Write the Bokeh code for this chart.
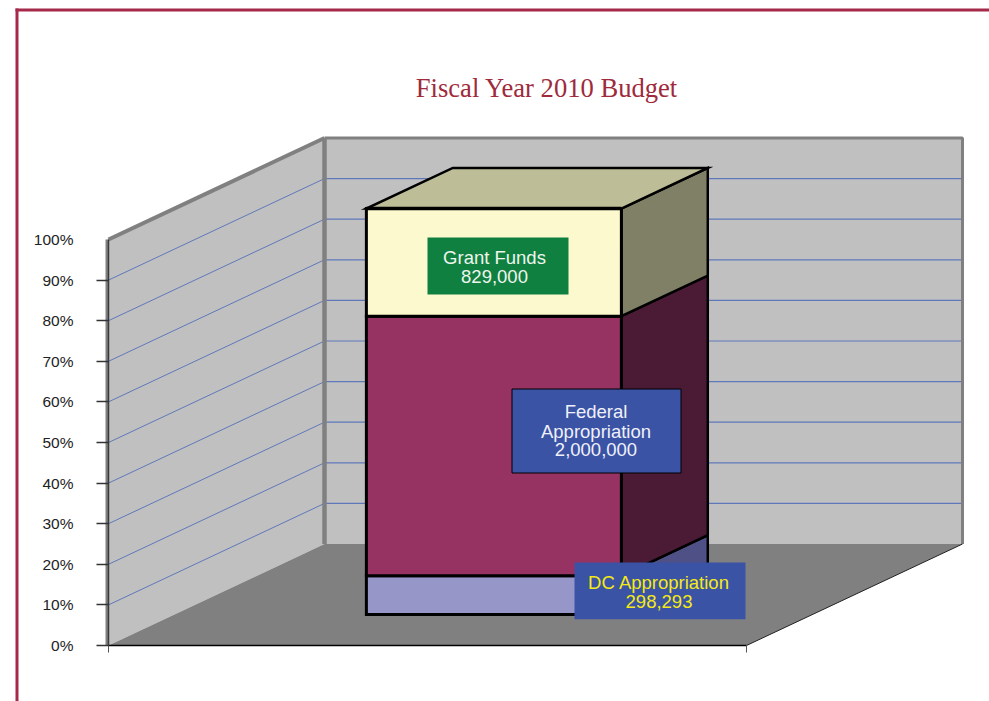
from bokeh.embed import file_html
from bokeh.resources import INLINE
from bokeh.plotting import figure
from bokeh.models import LinearAxis, FixedTicker, Range1d
from bokeh.core.properties import value

# ---- data ----
title_text = "Fiscal Year 2010 Budget"
categories = ["DC Appropriation", "Federal Appropriation", "Grant Funds"]
amounts = [298293, 2000000, 829000]
front_colors = ["#9696c9", "#963362", "#fdf9ce"]
side_colors = ["#4f5085", "#4b1b35", "#808066"]
top_color = "#bdbd98"
tick_values = [0, 10, 20, 30, 40, 50, 60, 70, 80, 90, 100]
tick_labels = ["0%", "10%", "20%", "30%", "40%", "50%", "60%", "70%", "80%", "90%", "100%"]
label_lines = [["DC Appropriation", "298,293"], ["Federal", "Appropriation", "2,000,000"], ["Grant Funds", "829,000"]]
label_text_colors = ["#f5ea14", "#f0f0fa", "#eef6ee"]
label_fills = ["#3a53a4", "#3a53a4", "#108040"]
label_borders = [None, "#000000", None]

# ---- layout (page pixels) ----
W, H = 989, 701
AXIS_X, AXIS_Y = 108, 645
PX_PER_PCT = 4.06
FLOOR_W, DX, DY = 638, 216, 25.0           # floor width, depth offset in x / in %
BAR_X, BAR_W, BAR_D0, BAR_DEPTH = 192, 255, 0.305, 0.40
GREY, WALL = "#808080", "#c0c0c0"
GRID = "#5f78ba"
BORDER = "#a52a4a"
label_boxes = [(574, 745, 562, 618.7), (511.5, 680.5, 388.5, 472.5), (427, 568, 237, 294)]
label_xc = [658.5, 595.5, 494]
label_yc = [[581.5, 600.5], [411, 430.5, 449], [256.5, 275.5]]


def px(sx):
    return sx - AXIS_X


def py(sy):
    return (AXIS_Y - sy) / PX_PER_PCT


def proj(x, d, y):
    return x + d * DX, y + d * DY


p = figure(width=W, height=H, output_backend="svg", toolbar_location=None,
           x_range=Range1d(px(0), px(W)), y_range=Range1d(py(H), py(0)),
           min_border_left=0, min_border_right=0, min_border_top=0, min_border_bottom=0,
           background_fill_color="white", border_fill_color="white", outline_line_color=None)
p.grid.visible = False

# page frame
p.quad(left=px(15), right=px(W), top=py(8), bottom=py(11), fill_color=BORDER, line_color=None)
p.quad(left=px(15), right=px(18), top=py(8), bottom=py(H), fill_color=BORDER, line_color=None)

# title
p.text(x=[px(546.5)], y=[py(87.5)], text=[title_text], text_color="#9e2a3c",
       text_font=value("Liberation Serif"), text_font_size=value("26.6px"),
       text_align="center", text_baseline="middle")

# walls and floor
p.patch([0, DX, DX, 0], [0, DY, 100 + DY, 100], fill_color=WALL, line_color=None)
p.patch([DX, DX + FLOOR_W, DX + FLOOR_W, DX], [DY, DY, 100 + DY, 100 + DY], fill_color=WALL, line_color=None)
p.patch([0, FLOOR_W, FLOOR_W + DX, DX], [0, 0, DY, DY], fill_color=GREY, line_color=None)

for t in tick_values[1:-1]:
    p.line([0, DX], [t, t + DY], line_color=GRID, line_width=1)
    p.line([DX, DX + FLOOR_W], [t + DY, t + DY], line_color=GRID, line_width=1.2)

p.line([0, DX], [100, 100 + DY], line_color=GREY, line_width=4)
p.line([DX, DX + FLOOR_W, DX + FLOOR_W], [100 + DY, 100 + DY, DY], line_color=GREY, line_width=3)
p.line([DX, DX], [DY, 100 + DY], line_color=GREY, line_width=4.5)
p.line([FLOOR_W, FLOOR_W + DX], [0, DY], line_color="#222222", line_width=1)
p.line([px(106.5), px(106.5)], [0, 100], line_color=GREY, line_width=3)

# stacked 3-D bar
total = sum(amounts)
start = 0.0
d0, d1 = BAR_D0, BAR_D0 + BAR_DEPTH
bx0, bx1 = BAR_X, BAR_X + BAR_W
for amount, fc, sc in zip(amounts, front_colors, side_colors):
    share = 100.0 * amount / total
    lo, hi = start, start + share
    side = [proj(bx1, d0, lo), proj(bx1, d1, lo), proj(bx1, d1, hi), proj(bx1, d0, hi)]
    p.patch([a for a, _ in side], [b for _, b in side], fill_color=sc, line_color="black",
            line_width=2.5, line_join="miter")
    front = [proj(bx0, d0, lo), proj(bx1, d0, lo), proj(bx1, d0, hi), proj(bx0, d0, hi)]
    p.patch([a for a, _ in front], [b for _, b in front], fill_color=fc, line_color="black",
            line_width=3, line_join="miter")
    start = hi
top_face = [proj(bx0, d0, start), proj(bx1, d0, start), proj(bx1, d1, start), proj(bx0, d1, start)]
p.patch([a for a, _ in top_face], [b for _, b in top_face], fill_color=top_color, line_color="black",
        line_width=2.5, line_join="miter")
p.line([proj(bx0, d0, start)[0], proj(bx1, d0, start)[0]], [proj(bx0, d0, start)[1]] * 2,
       line_color="black", line_width=3.5)

# data labels
for lines, tc, fill, border, box, xc, ycs in zip(label_lines, label_text_colors, label_fills,
                                                 label_borders, label_boxes, label_xc, label_yc):
    p.quad(left=px(box[0]), right=px(box[1]), top=py(box[2]), bottom=py(box[3]),
           fill_color=fill, line_color=border, line_width=1, line_join="miter")
    p.text(x=[px(xc)] * len(lines), y=[py(v) for v in ycs], text=lines, text_color=tc,
           text_font=value("Liberation Sans"), text_font_size=value("18.5px"),
           text_align="center", text_baseline="middle")

# axes drawn inside the frame at the wall edge: marks stop at 90%, labels reach 100%
yax = p.yaxis[0]
yax.fixed_location = 0
yax.ticker = FixedTicker(ticks=tick_values[:-1])
yax.bounds = (0, 100)
yax.axis_line_color = "#3a3a3a"
yax.axis_line_width = 1.5
yax.major_tick_out = 12
yax.major_tick_in = 0
yax.major_tick_line_color = "#333333"
yax.major_tick_line_width = 1.5
yax.minor_tick_line_color = None
yax.major_label_text_font_size = "0px"
yax.major_label_text_color = None

lab = LinearAxis(ticker=FixedTicker(ticks=tick_values), fixed_location=0,
                 major_label_overrides={v: s for v, s in zip(tick_values, tick_labels)})
lab.axis_line_color = None
lab.major_tick_line_color = None
lab.minor_tick_line_color = None
lab.major_tick_out = 0
lab.major_tick_in = 0
lab.major_label_text_font = "Liberation Sans"
lab.major_label_text_font_size = "15.5px"
lab.major_label_text_color = "#222222"
lab.major_label_standoff = 35
p.add_layout(lab, "left")

xax = p.xaxis[0]
xax.fixed_location = 0
xax.ticker = FixedTicker(ticks=[0, FLOOR_W])
xax.bounds = (0, FLOOR_W)
xax.axis_line_color = "black"
xax.axis_line_width = 1.5
xax.major_tick_out = 7
xax.major_tick_in = 0
xax.major_tick_line_color = "#555555"
xax.minor_tick_line_color = None
xax.major_label_text_font_size = "0px"
xax.major_label_text_color = None

open("out.html", "w").write(file_html(p, INLINE))
